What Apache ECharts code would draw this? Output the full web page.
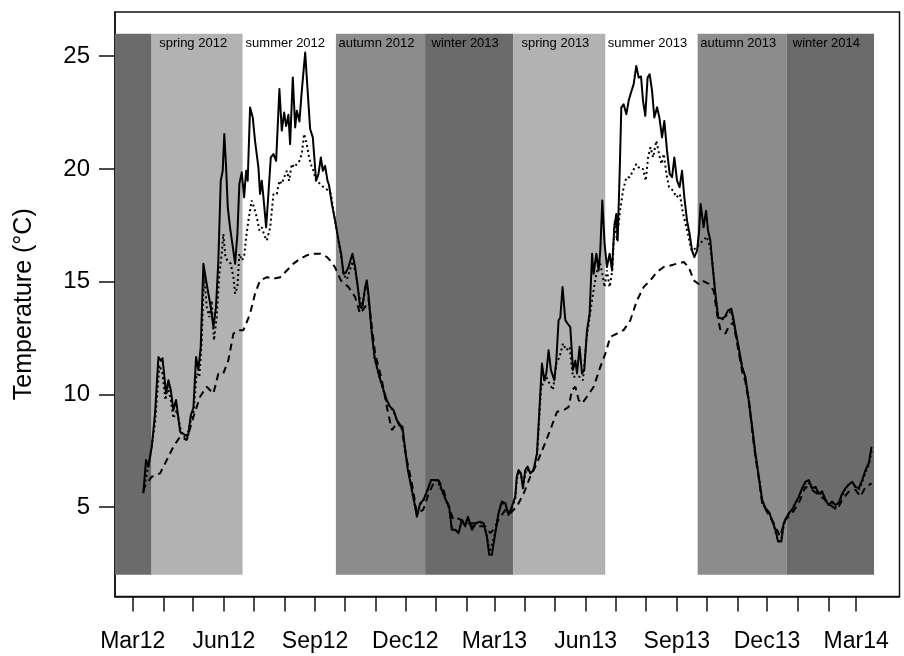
<!DOCTYPE html>
<html>
<head>
<meta charset="utf-8">
<script src="https://cdn.jsdelivr.net/npm/echarts@6/dist/echarts.min.js"></script>
<style>html,body{margin:0;padding:0;background:#fff}#c{width:904px;height:656px}</style>
</head>
<body>
<div id="c"></div>
<script>
// x values: days since 1 Mar 2012
const monthTickDays = [0,31,61,92,122,153,184,214,245,275,306,337,365,396,426,457,487,518,549,579,610,640,671,702,730];
const labelDays = [0,92,184,275,365,457,549,640,730];
const tickLabels = ['Mar12','Jun12','Sep12','Dec12','Mar13','Jun13','Sep13','Dec13','Mar14'];
const yTicks = [5,10,15,20,25];

const seasonNames = ['', 'spring 2012','summer 2012','autumn 2012','winter 2013','spring 2013','summer 2013','autumn 2013','winter 2014'];
const seasonStart = [-71, 19, 111, 205, 295, 384, 477, 570, 660];
const seasonEnd   = [19, 111, 205, 295, 384, 477, 570, 660, 748];
const seasonColor = ['#6b6b6b','#b2b2b2','#ffffff','#8c8c8c','#6b6b6b','#b2b2b2','#ffffff','#8c8c8c','#6b6b6b'];

const solidDays = [10.7,13.4,15.8,19.2,22.5,25.9,28.3,30,31.6,33.6,36,38.4,41,43.7,47.8,52.8,56,58.6,61.2,63.9,66.2,68.6,71.3,74,76.3,78.7,81.4,84,86.4,88.8,90.8,92.4,94.2,95.9,98.2,101,103.3,105.6,107.6,110,112.4,114.4,116,118.4,121.1,123.4,125.2,126.8,128.5,130.2,131.9,134.6,136.9,139.3,142,144.7,148,150.4,152.8,154.8,157.1,158.8,161.5,163.9,165.6,168.2,170.6,174,176.7,179,181.7,185,187.4,189.8,191.8,194.1,196.5,198,200.9,204.2,207.6,210.3,212.6,215,217.7,221.7,224.4,227.1,229.4,231.8,234.5,236.2,237.8,240.6,244,248,252,256.4,259.8,263.1,266.5,269.9,272.2,274.9,277.6,281,284.3,286.7,290,293.4,296.8,301.2,305.2,308.5,311.9,316,319.3,322,325.4,328.7,332.2,335.5,338.2,342.3,346.3,350.6,354,357.4,359.7,362.4,365.8,369.1,372.5,375.9,379.2,382.6,386,387.5,389.3,391.7,393.7,396.1,398.4,401.1,404.5,407.9,410.5,412.9,415.3,417.3,419.6,422,425.4,427.4,429.7,431.4,433.7,436.5,438.8,441.5,444.2,446.6,448.3,450.9,453.3,455.6,458.4,461,463.5,465.1,467.8,470.1,471.8,473.8,476.1,478.5,481.2,483.6,485.9,487.9,489.3,491.3,493,495.3,498.1,500.4,502.8,505.5,508.1,510.5,512.9,514.9,517.2,519.5,521.6,524,526.3,529.1,531.4,534.1,536.4,539.1,541.8,544.2,546.5,549.2,551.8,554.3,556.6,559.3,561.9,564.4,566.7,569.4,571.4,573,576,578.5,580.5,582.8,585.2,587.9,590.6,594,597.3,600.7,604.1,606.4,608.8,611.4,614.9,618.2,621.5,625,628.3,631.7,635.1,638.5,641.7,645.1,648.5,651.2,654.5,656.8,659.3,661.9,665.3,668.7,672,675.4,678.8,682.2,685.5,688.9,692.2,695.6,699,702.3,705.7,709,712.4,715.8,719.2,722.5,725.9,729.3,732.6,736,739.4,742.7,745.5];
const solidVals = [5.62,7.09,6.8,7.68,9.16,11.66,11.5,11.6,10.93,10.04,10.63,10.2,9.3,9.75,8.35,8.2,8.2,9.08,9.4,11.66,11.08,12.1,15.8,15.06,14.47,13.88,12.99,13.88,15.94,19.48,19.92,21.55,20.07,18.3,17.4,16.53,15.8,17.12,19.34,19.85,18.74,19.92,19.48,22.73,22.28,21.25,21.2,20.07,18.89,19.48,18.74,17.41,18.89,20.51,20.66,20.36,23.54,21.7,22.5,21.9,22.4,21.1,24.05,21.84,22.58,22.1,23.47,25.16,23.32,21.77,21.4,19.48,19.77,20.51,19.92,20.14,19.48,19.3,18.45,17.71,16.83,16.24,15.35,15.4,15.65,16.24,15.65,14.76,13.88,13.9,14.76,15.06,14.47,12.99,11.66,10.93,10.34,9.75,9.45,9.31,8.86,8.64,8.57,7.54,6.65,5.91,5.18,4.58,5.18,5.32,5.69,6.21,6.21,6.19,5.77,5.32,5.03,4.0,4.0,3.85,4.44,4.15,4.58,4.0,4.29,4.36,4.29,3.7,2.89,2.89,3.85,4.73,5.25,5.18,4.66,5.03,5.47,6.35,6.65,6.5,5.84,6.65,6.8,6.5,6.65,7.39,9.45,11.37,10.63,10.93,11.96,11.08,10.63,11.5,13.29,13.4,14.76,13.29,13.14,12.99,11.08,11.5,10.93,12.11,10.93,11.08,12.85,13.58,16.24,15.35,16.24,15.5,16.4,18.6,16.7,15.65,16.24,15.5,17.41,18.0,16.83,19.78,22.73,22.87,22.43,23.02,23.39,23.76,24.57,24.05,24.1,23.02,22.36,24.05,24.2,23.47,22.28,22.73,22.28,21.4,22.13,20.81,19.78,19.63,20.51,19.48,19.19,19.92,18.74,17.71,17.12,16.38,16.09,16.38,17.2,18.45,17.41,18.15,17.27,16.83,15.65,14.47,13.43,13.36,13.43,13.73,13.8,13.29,12.7,12.11,11.22,10.78,9.75,8.57,7.39,6.35,5.32,4.96,4.8,4.44,4.0,3.48,3.48,4.29,4.5,4.73,4.88,5.18,5.47,5.84,6.13,6.2,5.84,5.9,5.6,5.7,5.32,5.1,5.25,5.1,5.18,5.6,5.84,6.0,6.13,5.9,5.84,6.2,6.65,6.95,7.68];

const dottedDays = [10.7,17.5,22.5,26.9,30,33,35.3,38.4,41,44.4,49.5,54.5,57.8,61.2,64.5,67.2,69.6,71.9,74.6,77.3,79.6,82,84.7,87.4,89.8,91.4,93.5,95.5,98.9,101.6,103.3,105.6,107.6,110,112.4,114.4,116.7,120,122.4,125.2,127.8,130.2,133.6,135.3,138.7,142,145.4,148,150.4,152.8,155.5,157.8,160.5,162.9,165.6,168.2,170.6,172.9,175.6,177.3,179.6,182.4,185,189.1,192.5,197.5,200,203,207,210,213,216,219,222,225,228,231,234,236,238,241,244,248,252,256,260,263,267,270,272,275,278,281,284,287,290,293,297,301,305,308,312,316,319,322,325,329,332,335,338,342,346,351,354,357,360,362,366,369,372,376,379,383,386,387.5,389,392,394,396,398,401,404,408,412,413.9,417.3,420.6,424,427.4,430.7,434.1,437.5,440.8,444.2,447.6,450.9,454.3,457.7,461,464.4,467.8,471.1,473.8,476.1,478.5,481.2,483.9,486.3,488.6,491.3,494.7,498.1,501.5,504.8,508.2,511.6,514.9,517.6,520,522.4,525,528.4,531.1,533.5,535.8,538.5,541.2,545.2,548.6,552,555.4,558.7,563.8,568.9,572,576,579,583,585.5,588,591,594,597,601,604,606,609,611,615,618,622,625,628,632,635,638,642,645,648,651,654,657,659,662,665,669,672,675,679,682,686,689,692,696,699,702,706,709,712,716,719,722,726,729,733,736,739,743,745.5];
const dottedVals = [5.7,7.24,8.72,11.3,10.93,9.75,10.34,9.75,8.94,9.3,8.2,8.05,8.72,9.16,10.93,10.78,12.4,15.35,13.88,13.43,14.17,12.4,13.43,15.35,16.24,17.12,16.1,15.94,15.8,15.2,14.47,14.76,16.24,15.94,16.1,16.97,17.71,18.6,18.3,17.86,17.27,17.41,16.97,16.83,17.41,18.89,18.89,19.48,19.34,19.63,19.92,19.48,20.22,20.07,20.22,20.36,20.66,21.55,21.1,20.66,20.22,19.92,19.48,19.34,19.19,19.04,18.9,18.0,17.0,16.2,15.3,15.1,15.5,15.9,15.4,14.5,13.8,14.5,14.9,14.3,12.9,11.6,10.9,10.3,9.7,9.4,9.3,8.8,8.6,8.5,7.5,6.6,5.9,5.2,4.6,5.1,5.3,5.7,6.2,6.2,6.1,5.7,5.3,5.0,4.1,4.0,3.9,4.4,4.2,4.5,4.1,4.3,4.3,4.3,3.8,3.0,3.0,3.9,4.7,5.2,5.1,4.7,5.0,5.4,6.2,6.5,6.4,5.9,6.5,6.7,6.5,6.6,7.3,10.3,10.48,10.78,10.48,10.2,11.37,11.66,12.26,11.96,12.11,10.78,10.78,10.78,10.63,12.4,13.43,14.47,15.35,15.94,15.35,14.76,15.5,14.76,15.5,17.71,16.83,18.0,19.04,19.63,19.63,19.92,20.22,20.0,20.0,19.48,20.51,20.96,20.51,21.25,20.66,20.22,20.66,19.78,19.19,19.04,18.74,18.89,18.0,17.41,16.38,16.5,16.7,16.83,17.0,16.5,15.6,14.4,13.4,13.3,13.4,13.6,13.7,13.2,12.6,12.0,11.2,10.7,9.7,8.5,7.4,6.3,5.3,4.9,4.8,4.4,4.0,3.5,3.5,4.2,4.5,4.7,4.9,5.2,5.4,5.8,6.1,6.1,5.8,5.9,5.6,5.6,5.3,5.1,5.2,5.0,5.2,5.5,5.8,6.0,6.1,5.9,5.8,6.1,6.5,6.9,7.5];

const dashedDays = [10.7,12,19.2,27.6,34.3,41,47.8,54.5,61.2,67.9,74.6,81.4,86.4,91.4,96.5,101.6,106.6,111.7,118.4,123.4,128.5,135.3,142,148.8,155.5,162.2,169,175.6,182.4,189.1,195.8,199.2,204,210,217.7,224.4,229.4,234.5,238,244.6,251.4,256.4,261.5,266.5,271,276.6,281.7,286.7,293,298.5,303.5,308.5,313.5,318.6,323.6,328.7,333.8,338.8,343.9,349,355.7,360.8,364.1,369.1,375.9,380.9,387.6,394.4,401.1,407.9,414.6,421.3,428.1,434.8,439.9,443.2,446.6,450,453.3,458.4,465.1,471.8,476.9,481.9,488.6,495.3,502.1,508.8,515.5,522.3,529,535.8,542.5,549.2,556,561,566,571,574.4,581.2,586.2,589.6,593,598,601.4,606,611,615,618,622,625,628.3,632,635.1,640,648.5,653,658.3,665.3,672,678.8,685.5,692,699,705.7,710.7,715.8,722.5,729.3,734.3,739.4,745.5];
const dashedVals = [5.7,5.91,6.35,6.5,7.09,7.68,8.13,7.98,9.0,9.9,10.34,10.04,10.93,10.93,11.52,12.7,12.85,12.85,13.58,14.47,15.06,15.2,15.13,15.2,15.5,15.8,16.02,16.17,16.24,16.24,16.1,15.94,15.65,15.06,14.76,14.32,13.58,13.88,14.2,11.81,10.63,9.45,8.42,8.72,8.57,7.09,6.06,4.73,4.88,5.6,6.06,6.2,5.77,5.03,4.44,4.5,4.36,4.29,4.29,4.15,4.15,3.85,4.0,4.44,4.88,4.73,5.03,5.6,6.35,6.95,7.68,8.42,9.23,9.3,9.45,10.2,10.34,9.75,9.6,9.9,10.34,11.22,11.81,12.55,12.7,12.85,13.29,14.17,14.76,15.06,15.43,15.65,15.72,15.8,15.87,15.65,15.06,14.9,15.06,14.9,14.6,13.58,12.85,12.7,12.99,13.2,12.0,11.0,10.6,9.6,8.4,7.24,6.2,5.18,4.8,4.15,3.7,4.44,4.73,5.18,5.9,5.77,5.55,5.32,5.03,4.88,5.32,5.69,5.77,5.47,5.9,6.06];

const XMIN = -17.9, XMAX = 773.7, YMIN = 1.04, YMAX = 26.96;
const FONT = '"Liberation Sans", Arial, Helvetica, sans-serif';
const zip = (d, v) => d.map((x, i) => [x, v[i]]);
const labelFor = {};
labelDays.forEach((d, i) => { labelFor[d] = tickLabels[i]; });

const chart = echarts.init(document.getElementById('c'), null, {renderer: 'canvas'});
chart.setOption({
  animation: false,
  backgroundColor: '#ffffff',
  grid: {left: 115, right: 4.5, top: 12, bottom: 59.5, show: true, borderColor: '#111', borderWidth: 1.5, backgroundColor: 'transparent'},
  xAxis: {
    type: 'value', min: XMIN, max: XMAX,
    axisLine: {show: true, onZero: false, lineStyle: {color: '#111', width: 1.5}},
    axisTick: {show: true, inside: false, length: 15, customValues: monthTickDays, lineStyle: {color: '#111', width: 1.5}},
    axisLabel: {show: true, customValues: labelDays, margin: 34, color: '#000', fontSize: 23, fontFamily: FONT,
      formatter: v => labelFor[v] || ''},
    splitLine: {show: false}
  },
  yAxis: {
    type: 'value', min: YMIN, max: YMAX,
    name: 'Temperature (°C)', nameLocation: 'middle', nameGap: 78,
    nameTextStyle: {color: '#000', fontSize: 25, fontFamily: FONT},
    axisLine: {show: true, onZero: false, lineStyle: {color: '#111', width: 1.5}},
    axisTick: {show: true, inside: false, length: 16, customValues: yTicks, lineStyle: {color: '#111', width: 1.5}},
    axisLabel: {show: true, customValues: yTicks, margin: 25, color: '#000', fontSize: 24, fontFamily: FONT},
    splitLine: {show: false}
  },
  series: [
    {
      type: 'line', data: [], silent: true, z: 1,
      markArea: {
        silent: true,
        data: seasonNames.map((n, i) => [
          {name: n, xAxis: Math.max(seasonStart[i], XMIN), yAxis: 2,
           itemStyle: {color: seasonColor[i], opacity: 1, borderWidth: 0},
           label: {show: true, position: 'insideTop', distance: 3, offset: [-4, 0], color: '#000', fontSize: 13, fontFamily: FONT}},
          {xAxis: seasonEnd[i], yAxis: 26}
        ])
      }
    },
    {type: 'line', data: zip(dashedDays, dashedVals), showSymbol: false, symbol: 'none', z: 3,
     lineStyle: {color: '#000', width: 2, type: [7, 5]}},
    {type: 'line', data: zip(dottedDays, dottedVals), showSymbol: false, symbol: 'none', z: 3,
     lineStyle: {color: '#000', width: 2, type: [2, 3]}},
    {type: 'line', data: zip(solidDays, solidVals), showSymbol: false, symbol: 'none', z: 4,
     lineStyle: {color: '#000', width: 2, join: 'round'}}
  ]
});
</script>
</body>
</html>
